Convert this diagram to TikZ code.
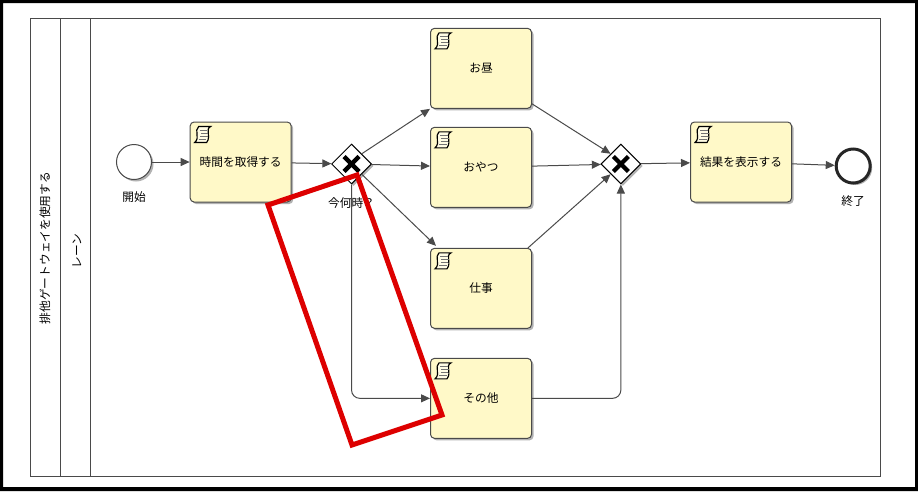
\documentclass[tikz,border=0pt]{standalone}
\usepackage{fontspec}
\newfontfamily\jpfont{Noto Sans CJK JP}
\usetikzlibrary{positioning,shapes.geometric,shadows,arrows.meta}

\definecolor{taskfill}{HTML}{FFF9C8}
\definecolor{edgegray}{HTML}{4A4A4A}
\definecolor{markred}{HTML}{DD0000}

% script task icon, drawn at the top left of a task
\newcommand{\scrollicon}[1]{
  \begin{scope}[shift={(#1.north west)}]
    \draw[black, line width=0.035cm, fill=taskfill!50!white] (9,5) -- (21,5) .. controls (15,8) and (22,14) .. (17,21) -- (5,21) .. controls (11,16) and (4,9) .. (9,5) -- cycle;
    \foreach \ly/\lx in {8.5/10, 11.5/11, 14.5/10.5, 17.5/9}
      \draw[black!55, line width=0.025cm] (\lx,\ly) -- ++(7.5,0);
  \end{scope}
}
% exclusive gateway cross
\newcommand{\gwcross}[1]{
  \draw[black, line width=0.13cm] ([shift={(-7.5,-7.5)}]#1.center) -- ([shift={(7.5,7.5)}]#1.center);
  \draw[black, line width=0.13cm] ([shift={(-7.5,7.5)}]#1.center) -- ([shift={(7.5,-7.5)}]#1.center);
}

\begin{document}
\begin{tikzpicture}[
        x=0.03cm, y=-0.03cm,
        font=\jpfont\fontsize{10pt}{12pt}\selectfont,
        task/.style={rectangle, draw=edgegray, line width=0.03cm, rounded corners=0.12cm, fill=taskfill, minimum width=3.03cm, minimum height=2.4cm, align=center,
          drop shadow={shadow xshift=0.06cm, shadow yshift=-0.06cm, fill=black, opacity=0.3}},
        gateway/.style={diamond, aspect=1, draw=black, line width=0.03cm, fill=white, inner sep=0pt, minimum width=1.2cm, minimum height=1.2cm,
          drop shadow={shadow xshift=0.06cm, shadow yshift=-0.06cm, fill=black, opacity=0.3}},
        startev/.style={circle, draw=edgegray, line width=0.03cm, fill=white, minimum size=1.05cm, inner sep=0pt,
          drop shadow={shadow xshift=0.06cm, shadow yshift=-0.06cm, fill=black, opacity=0.3}},
        endev/.style={circle, draw=black!85, line width=0.09cm, fill=white, minimum size=1.02cm, inner sep=0pt,
          drop shadow={shadow xshift=0.06cm, shadow yshift=-0.06cm, fill=black, opacity=0.3}},
        lbl/.style={inner sep=0pt},
        flow/.style={draw=edgegray, line width=0.03cm, -{Triangle[length=0.27cm, width=0.24cm]}},
        redmark/.style={draw=markred, line width=0.15cm, line join=miter}
    ]
        \useasboundingbox (0,0) rectangle (918,491);

        % screenshot frame
        \fill[black, even odd rule] (0,0) rectangle (918,491) (3,3) rectangle (915,487);

        % pool and lane
        \draw[edgegray, line width=0.03cm] (30,18) rectangle (880,476);
        \draw[edgegray, line width=0.03cm] (60,18) -- (60,476);
        \draw[edgegray, line width=0.03cm] (90,18) -- (90,476);
        \node[lbl, rotate=90] (poollbl) at (45,248) {排他ゲートウェイを使用する};
        \node[lbl, rotate=90] (lanelbl) at (77,251) {レーン};

        % events, tasks, gateways
        \node[startev] (start) at (134,162) {};
        \node[lbl, below=0.35cm of start] (startlbl) {開始};
        \node[task, right=1.13cm of start] (gettime) {時間を取得する};
        \node[gateway, right=1.18cm of gettime, yshift=-0.06cm] (gw1) {};
        \node[lbl, below=0.4cm of gw1] (gw1lbl) {今何時？};

        \node[task, right=1.74cm of gw1, yshift=-0.1cm] (oyatsu) {おやつ};
        \node[task, above=0.54cm of oyatsu] (ohiru) {お昼};
        \node[task, below=1.2cm of oyatsu] (shigoto) {仕事};
        \node[task, below=0.87cm of shigoto] (sonota) {その他};

        \node[gateway, right=6.85cm of gw1] (gw2) {};
        \node[task, right=1.46cm of gw2, yshift=0.06cm] (result) {結果を表示する};
        \node[endev, right=1.28cm of result, yshift=-0.12cm] (finish) {};
        \node[lbl, below=0.32cm of finish] (finishlbl) {終了};

        % icons
        \scrollicon{gettime}
        \scrollicon{ohiru}
        \scrollicon{oyatsu}
        \scrollicon{shigoto}
        \scrollicon{sonota}
        \scrollicon{result}
        \gwcross{gw1}
        \gwcross{gw2}

        % sequence flows
        \draw[flow] (start) -- (gettime);
        \draw[flow] (gettime) -- (gw1);
        \draw[flow] (gw1.north east) -- (ohiru.south west);
        \draw[flow] (gw1) -- (oyatsu);
        \draw[flow] (gw1.south east) -- ([shift={(6,-2)}]shigoto.north west);
        \draw[flow, rounded corners=0.25cm] (gw1.south) |- (sonota.west);
        \draw[flow] ([shift={(0,-5)}]ohiru.south east) -- (gw2.north west);
        \draw[flow] (oyatsu) -- (gw2);
        \draw[flow] ([shift={(-4,0)}]shigoto.north east) -- (gw2.south west);
        \draw[flow, rounded corners=0.25cm] (sonota.east) -| (gw2.south);
        \draw[flow] (gw2) -- (result);
        \draw[flow] (result) -- (finish);

        % red highlight
        \draw[redmark] (268,205) -- (357,175) -- (442,415) -- (352,445) -- cycle;

    \end{tikzpicture}
\end{document}
